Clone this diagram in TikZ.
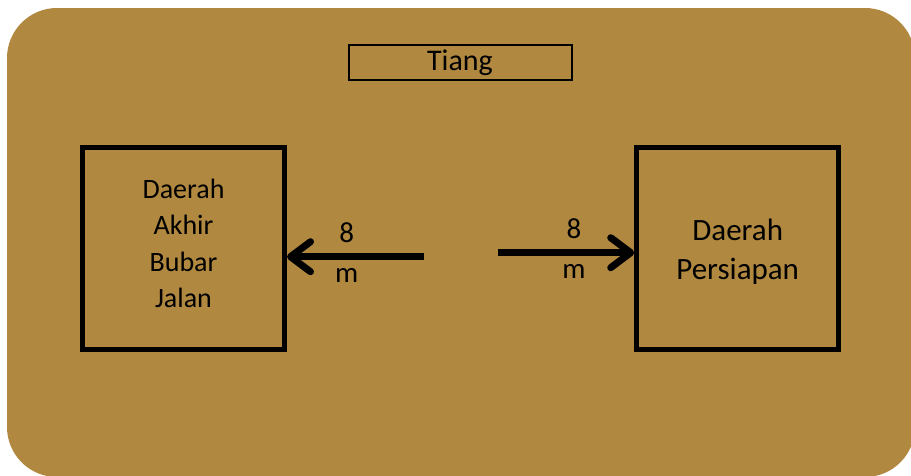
\documentclass[tikz,border=0pt]{standalone}
\usepackage{fontspec}
\setmainfont{Carlito}
\usetikzlibrary{arrows.meta}
\definecolor{tanah}{HTML}{B08840}
\tikzset{
  kotak/.style={draw=black, line width=5pt, minimum width=202pt, minimum height=202pt, inner sep=0pt},
  teks/.style={align=center, inner sep=0pt},
  label8/.style={align=center, inner sep=0pt, font=\fontsize{29}{40}\selectfont},
  panah/.style={line width=7pt, -{Straight Barb[length=20pt,width=30pt,round]}}
}
\begin{document}
\begin{tikzpicture}[x=1pt,y=-1pt]
		\useasboundingbox (0,0) rectangle (911,475);
		% Background
		\fill[tanah, rounded corners=50pt] (7,8) rectangle (915,477);
		
		% Tiang
		\node[draw=black, line width=2pt, minimum width=223pt, minimum height=35pt, inner sep=0pt, font=\fontsize{30}{36}\selectfont] (tiang) at (460,62.5) {Tiang};
		
		% Boxes
		\node[kotak] (akhir) at (183.5,248.5) {};
		\node[kotak] (persiapan) at (737.7,248.5) {};
		\node[teks, font=\fontsize{28}{36.3}\selectfont] (teksakhir) at ([yshift=5pt]akhir.center) {Daerah\\Akhir\\Bubar\\Jalan};
		\node[teks, font=\fontsize{31}{39.3}\selectfont] (tekspersiapan) at ([yshift=-3pt]persiapan.center) {Daerah\\Persiapan};
		
		% Arrows
		\coordinate (kiri) at (424,256.7);
		\coordinate (kanan) at (498,252.7);
		\draw[panah] (kiri) -- (kiri -| akhir.east);
		\draw[panah] (kanan) -- (kanan -| persiapan.west);
		
		% Distances
		\node[label8] (jarakkiri) at (346.7,253) {8\\m};
		\node[label8] (jarakkanan) at (574,249) {8\\m};
	\end{tikzpicture}
\end{document}
